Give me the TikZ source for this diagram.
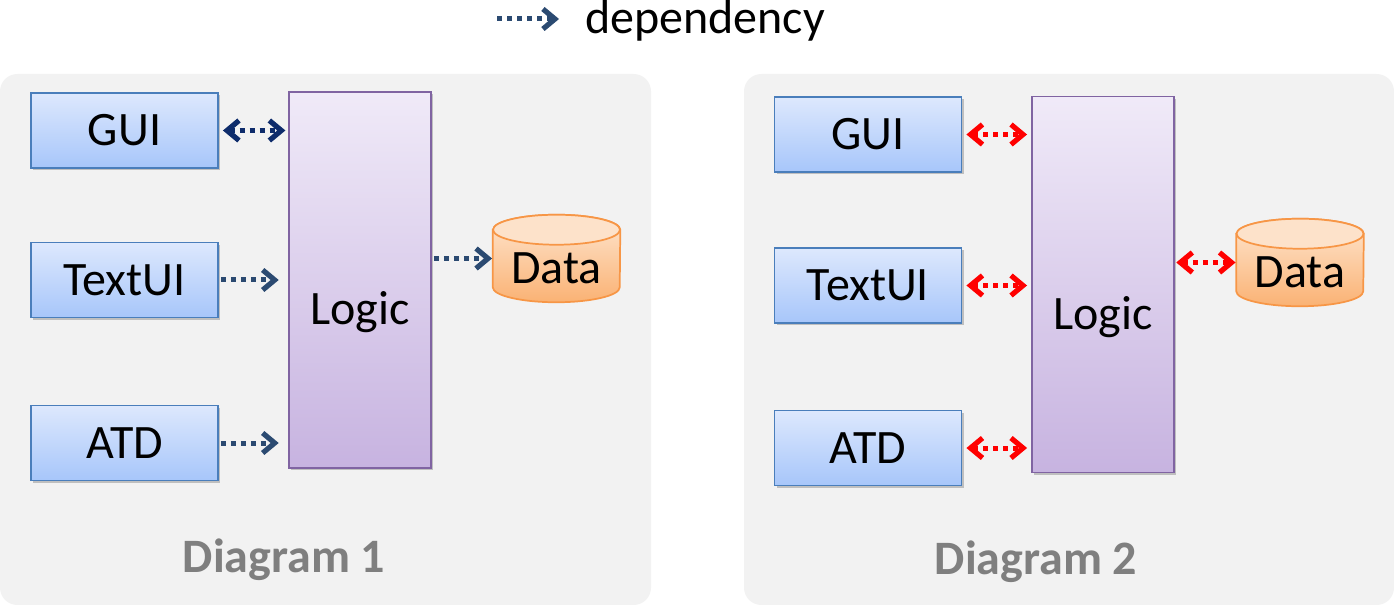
\documentclass[tikz,border=0pt]{standalone}
\usepackage{fontspec}
\setmainfont{Carlito}
\usetikzlibrary{arrows.meta,shadows}

\definecolor{panelgray}{HTML}{F2F2F2}
\definecolor{labelgray}{HTML}{7F7F7F}
\definecolor{boxtop}{HTML}{DDE8FD}
\definecolor{boxbot}{HTML}{A7C6FA}
\definecolor{boxline}{HTML}{4A7EBB}
\definecolor{logictop}{HTML}{F0EAF8}
\definecolor{logicbot}{HTML}{C7B3E0}
\definecolor{logicline}{HTML}{8064A2}
\definecolor{datatop}{HTML}{FEE6D0}
\definecolor{databot}{HTML}{FAB274}
\definecolor{datacap}{HTML}{FDE2CA}
\definecolor{dataline}{HTML}{F79646}
\definecolor{depnavy}{HTML}{0E2C6B}
\definecolor{depblue}{HTML}{2B4A71}
\definecolor{depred}{HTML}{FF0000}

\tikzset{
  bigtext/.style={font=\fontsize{36}{40}\selectfont},
  panel/.style={fill=panelgray, draw=none, rounded corners=13pt},
  uibox/.style={rectangle, draw=boxline, line width=1.4pt, top color=boxtop, bottom color=boxbot,
    minimum width=140.25pt, minimum height=56.25pt, inner sep=0pt, bigtext,
    drop shadow={shadow xshift=1.8pt, shadow yshift=-1.8pt, opacity=0.3, fill=black!70}},
  logicbox/.style={rectangle, draw=logicline, line width=1.4pt, top color=logictop, bottom color=logicbot,
    minimum width=106.5pt, minimum height=282pt, inner sep=0pt,
    drop shadow={shadow xshift=1.8pt, shadow yshift=-1.8pt, opacity=0.3, fill=black!70}},
  datanode/.style={rectangle, draw=none, minimum width=95.25pt, minimum height=65.25pt, inner sep=0pt},
  caption/.style={font=\fontsize{36}{40}\selectfont\bfseries, text=labelgray},
  chevron/.tip={Straight Barb[length=9pt, width=15pt, line width=3.9pt]},
  dep/.style={line width=3.75pt, dash pattern=on 3.75pt off 3.75pt, -chevron},
  depboth/.style={line width=3.75pt, dash pattern=on 3.75pt off 3.75pt, chevron-chevron},
}

% cylinder drawn around a named node: #1 = node name
\newcommand{\drawdrum}[1]{%
  \path[top color=datatop, bottom color=databot, draw=dataline, line width=1.3pt]
    ([yshift=-11.25pt]#1.north west) -- ([yshift=11.25pt]#1.south west)
    arc[start angle=180, end angle=360, x radius=47.625pt, y radius=11.25pt]
    -- ([yshift=-11.25pt]#1.north east)
    arc[start angle=0, end angle=180, x radius=47.625pt, y radius=11.25pt] -- cycle;
  \path[fill=datacap, draw=dataline, line width=1.3pt]
    ([yshift=-11.25pt]#1.north) ellipse[x radius=47.625pt, y radius=11.25pt];
}

\begin{document}
\begin{tikzpicture}[x=0.75pt, y=-0.75pt]
  \useasboundingbox (0,0) rectangle (1394,605);

  % legend
  \coordinate (legA) at (497,19);
  \coordinate (legB) at (559,19);
  \draw[dep, depblue] (legA) -- (legB);
  \node[bigtext, anchor=base west, inner sep=0pt] (legtext) at (585,34) {dependency};

  % panels
  \fill[panel] (0,74) rectangle (651,605);
  \fill[panel] (744,74) rectangle (1394,605);

  % ---- first variant ----
  \node[uibox] (gui1)  at (124.5,130.5) {GUI};
  \node[uibox] (text1) at (124.5,280) {TextUI};
  \node[uibox] (atd1)  at (124.5,443) {ATD};
  \node[logicbox] (logic1) at (360,280) {};
  \node[bigtext, anchor=base, inner sep=0pt] (logic1text) at (360,325) {Logic};
  \node[datanode] (data1) at (556.5,258.5) {};
  \drawdrum{data1}
  \node[bigtext, inner sep=0pt, anchor=base] (data1text) at (556.5,284) {Data};
  \node[caption, anchor=base] (cap1) at (284,572) {Diagram 1};

  \draw[depboth, depnavy, shorten <=3pt, shorten >=2pt] (gui1.east) -- (logic1.west |- gui1.east);
  \draw[dep, depblue, shorten <=1.5pt, shorten >=7pt] (text1.east) -- (logic1.west |- text1.east);
  \draw[dep, depblue, shorten <=1.5pt, shorten >=7pt] (atd1.east) -- (logic1.west |- atd1.east);
  \draw[dep, depblue, shorten <=1.5pt, shorten >=0.5pt] (logic1.east |- data1.west) -- (data1.west);

  % ---- second variant ----
  \node[uibox] (gui2)  at (868,134.5) {GUI};
  \node[uibox] (text2) at (868,285.5) {TextUI};
  \node[uibox] (atd2)  at (868,448) {ATD};
  \node[logicbox] (logic2) at (1103,284.5) {};
  \node[bigtext, anchor=base, inner sep=0pt] (logic2text) at (1103,330) {Logic};
  \node[datanode] (data2) at (1300,262.5) {};
  \drawdrum{data2}
  \node[bigtext, inner sep=0pt, anchor=base] (data2text) at (1300,288) {Data};
  \node[caption, anchor=base] (cap2) at (1036,574) {Diagram 2};

  \draw[depboth, depred, shorten <=3pt, shorten >=3pt] (gui2.east) -- (logic2.west |- gui2.east);
  \draw[depboth, depred, shorten <=3pt, shorten >=3pt] (text2.east) -- (logic2.west |- text2.east);
  \draw[depboth, depred, shorten <=3pt, shorten >=3pt] (atd2.east) -- (logic2.west |- atd2.east);
  \draw[depboth, depred, shorten <=1pt, shorten >=0.5pt] (logic2.east |- data2.west) -- (data2.west);
\end{tikzpicture}
\end{document}
